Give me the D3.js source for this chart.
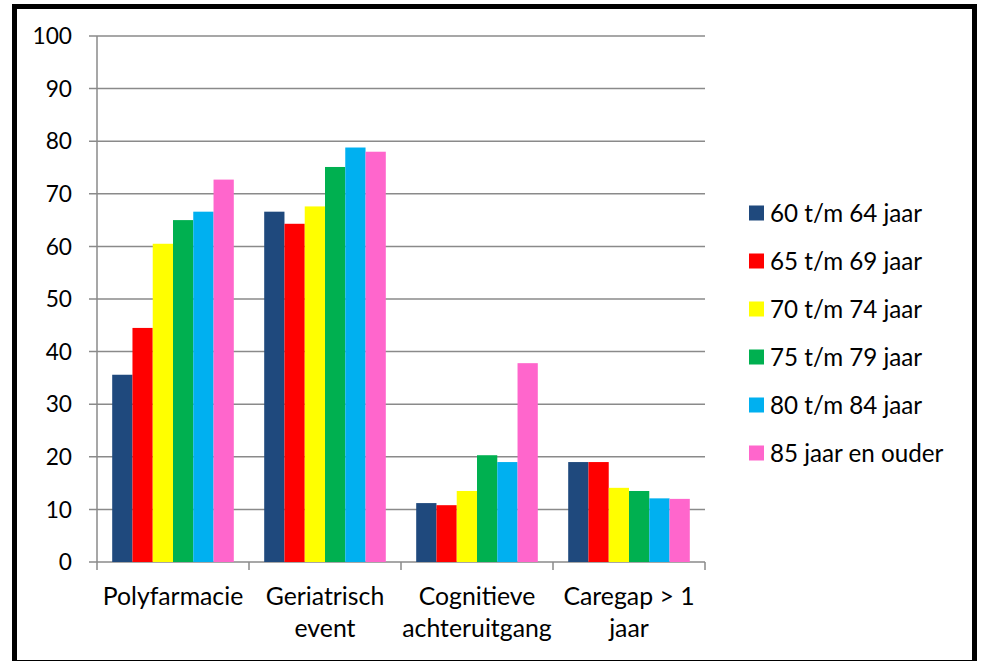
<!DOCTYPE html>
<html><head><meta charset="utf-8">
<script src="https://cdn.jsdelivr.net/npm/d3@7"></script>
<style>body{margin:0;background:#fff}svg{display:block}</style>
</head><body>
<svg id="c" width="982" height="661"></svg>
<script>
const categories = [["Polyfarmacie"],["Geriatrisch","event"],["Cognitieve","achteruitgang"],["Caregap > 1","jaar"]];
const seriesNames = ["60 t/m 64 jaar","65 t/m 69 jaar","70 t/m 74 jaar","75 t/m 79 jaar","80 t/m 84 jaar","85 jaar en ouder"];
const seriesColors = ["#1F497D","#FF0000","#FFFF00","#00B050","#00B0F0","#FF66CC"];
const s60 = [35.6, 66.6, 11.2, 19.0];
const s65 = [44.5, 64.3, 10.8, 19.0];
const s70 = [60.5, 67.6, 13.5, 14.1];
const s75 = [65.0, 75.1, 20.3, 13.5];
const s80 = [66.6, 78.8, 19.0, 12.1];
const s85 = [72.7, 78.0, 37.8, 12.0];
const yTicks = [0,10,20,30,40,50,60,70,80,90,100];

const values = [s60,s65,s70,s75,s80,s85];
const svg = d3.select("#c");
const font = "Lato, 'Open Sans', sans-serif";
const L = 97, R = 705, T = 36, B = 562;
const x0 = d3.scaleBand().domain(d3.range(categories.length)).range([L,R]).paddingInner(0.2).paddingOuter(0.1);
const x1 = d3.scaleBand().domain(d3.range(seriesNames.length)).range([0,x0.bandwidth()]);
const y = d3.scaleLinear().domain([0,100]).range([B,T]);

// outer frame
svg.append("rect").attr("x",14.5).attr("y",6.5).attr("width",960).attr("height",656)
  .attr("fill","#fff").attr("stroke","#000").attr("stroke-width",5);

// gridlines
svg.append("g").selectAll("line").data(yTicks.filter(d=>d>0)).join("line")
  .attr("x1",L-8).attr("x2",R).attr("y1",d=>y(d)).attr("y2",d=>y(d))
  .attr("stroke","#8a8a8a").attr("stroke-width",1.5);
// y labels
svg.append("g").selectAll("text").data(yTicks).join("text")
  .attr("x",72).attr("y",d=>y(d)).attr("dy","0.36em").attr("text-anchor","end")
  .attr("font-family",font).attr("font-size",22.7).attr("fill","#000").text(d=>d);
// y axis line + baseline
svg.append("line").attr("x1",L).attr("x2",L).attr("y1",T).attr("y2",B).attr("stroke","#8a8a8a").attr("stroke-width",1.5);
svg.append("line").attr("x1",L-8).attr("x2",R).attr("y1",B).attr("y2",B).attr("stroke","#8a8a8a").attr("stroke-width",1.5);

// bars
const g = svg.append("g");
categories.forEach((c,ci)=>{
  values.forEach((s,si)=>{
    g.append("rect").attr("x",x0(ci)+x1(si)).attr("width",x1.bandwidth())
      .attr("y",y(s[ci])).attr("height",y(0)-y(s[ci])).attr("fill",seriesColors[si]);
  });
});

// x ticks at category boundaries
const bounds = d3.range(categories.length+1).map(i=>L + i*(R-L)/categories.length);
svg.append("g").selectAll("line").data(bounds).join("line")
  .attr("x1",d=>d).attr("x2",d=>d).attr("y1",B).attr("y2",B+8)
  .attr("stroke","#8a8a8a").attr("stroke-width",1.5);

// category labels
categories.forEach((lines,ci)=>{
  const cx = x0(ci)+x0.bandwidth()/2;
  lines.forEach((t,li)=>{
    svg.append("text").attr("x",cx).attr("y",605+li*32).attr("text-anchor","middle")
      .attr("font-family",font).attr("font-size",24.8).attr("fill","#000").text(t);
  });
});

// legend
const lg = svg.append("g");
seriesNames.forEach((n,i)=>{
  const cy = 213 + i*48;
  lg.append("rect").attr("x",749).attr("y",cy-7.5).attr("width",15).attr("height",15).attr("fill",seriesColors[i]);
  lg.append("text").attr("x",770).attr("y",cy).attr("dy","0.36em")
    .attr("font-family",font).attr("font-size",24.2).attr("fill","#000").text(n);
});
</script>
</body></html>
